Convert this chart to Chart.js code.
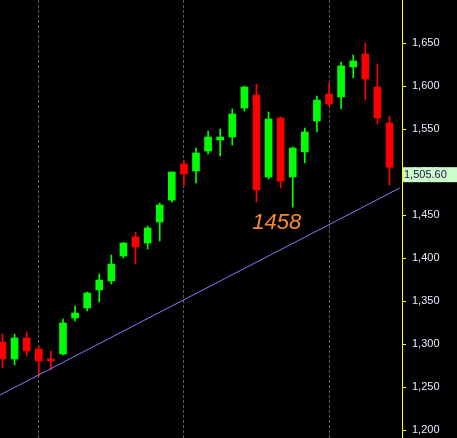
<!DOCTYPE html>
<html>
<head>
<meta charset="utf-8">
<script src="https://cdn.jsdelivr.net/npm/chart.js@4/dist/chart.umd.min.js"></script>
<style>
  html, body { margin: 0; padding: 0; background: #000; }
  canvas { display: block; }
</style>
</head>
<body>
<canvas id="grafico" width="457" height="438"></canvas>
<script>
// OHLC de cada candle (da esquerda para a direita)
const aberturas = [1302.3, 1282.6, 1307.0, 1294.2, 1282.6, 1288.4, 1330.2, 1341.9, 1362.8, 1373.3, 1402.3,
    1424.4, 1417.4, 1441.9, 1467.4, 1509.3, 1501.2, 1524.4, 1537.2, 1540.7, 1574.4, 1589.5,
    1494.2, 1562.8, 1494.2, 1523.3, 1559.3, 1590.7, 1587.2, 1622.1, 1637.2, 1598.8, 1557.0];
const maximas = [1311.6, 1311.6, 1314.0, 1297.7, 1291.9, 1329.0, 1344.2, 1360.5, 1381.4, 1403.5, 1418.0,
    1430.2, 1437.2, 1464.0, 1500.0, 1514.0, 1527.9, 1547.7, 1550.0, 1573.3, 1600.0, 1602.3,
    1569.8, 1564.0, 1529.1, 1551.2, 1588.4, 1603.5, 1627.9, 1636.0, 1650.0, 1625.6, 1565.1];
const minimas = [1272.1, 1275.6, 1286.0, 1262.8, 1269.8, 1287.2, 1326.7, 1338.4, 1348.8, 1369.8, 1400.0,
    1393.0, 1410.5, 1419.8, 1465.1, 1483.7, 1487.2, 1520.9, 1518.6, 1531.4, 1570.9, 1465.1,
    1491.9, 1481.4, 1459.3, 1510.5, 1546.5, 1576.7, 1573.3, 1609.3, 1583.7, 1555.8, 1484.9];
const fechamentos = [1282.6, 1307.0, 1291.9, 1280.2, 1280.2, 1324.4, 1336.0, 1359.3, 1374.4, 1393.0, 1417.4,
    1412.8, 1434.9, 1461.6, 1500.0, 1497.7, 1522.1, 1540.7, 1540.7, 1567.4, 1598.8, 1479.1,
    1561.6, 1489.5, 1527.9, 1546.5, 1583.7, 1579.1, 1623.3, 1629.1, 1608.1, 1562.8, 1505.6];

// linha de tendencia (indice do candle, preco)
const tendenciaX = [-0.21, 32.85];
const tendenciaY = [1240.7, 1481.4];

// marcas do eixo de precos e linhas verticais
const ticksPreco = [1200, 1250, 1300, 1350, 1400, 1450, 1500, 1550, 1600, 1650];
const divisoes = [3, 15, 27];

// texto da minima marcada
const anotacaoTexto = '1458';
const anotacaoX = 22.67;
const anotacaoY = 1440.7;

const VERDE = '#00ff00';
const VERMELHO = '#ff0000';

const cores = aberturas.map((a, i) => fechamentos[i] >= a ? VERDE : VERMELHO);
const corpos = aberturas.map((a, i) => ({ x: i, y: [a, fechamentos[i]] }));
const pavios = minimas.map((m, i) => ({ x: i, y: [m, maximas[i]] }));
const tendencia = tendenciaX.map((x, i) => ({ x: x, y: tendenciaY[i] }));

const fundoPreto = {
    id: 'fundoPreto',
    beforeDraw(chart) {
        const c = chart.ctx;
        c.save();
        c.fillStyle = '#000';
        c.fillRect(0, 0, chart.width, chart.height);
        c.restore();
    }
};

const rotulos = {
    id: 'rotulos',
    afterDraw(chart) {
        const c = chart.ctx;
        const x = chart.scales.x;
        const y = chart.scales.y;
        c.save();
        // anotacao 1458
        c.font = 'italic 22px "Liberation Sans", Arial, sans-serif';
        c.fillStyle = '#f7892c';
        c.textAlign = 'center';
        c.textBaseline = 'middle';
        c.fillText(anotacaoTexto, x.getPixelForValue(anotacaoX), y.getPixelForValue(anotacaoY));

        // ultimo preco
        const ultimo = fechamentos[fechamentos.length - 1];
        const py = y.getPixelForValue(ultimo);
        const esq = chart.chartArea.right + 1;
        c.fillStyle = '#ccfccc';
        c.fillRect(esq, py, chart.width - esq, 15);
        c.font = '11px "Liberation Sans", Arial, sans-serif';
        c.fillStyle = '#1c1440';
        c.textAlign = 'left';
        c.fillText(ultimo.toLocaleString('en-US', { minimumFractionDigits: 2 }), esq + 1, py + 7.5);
        c.restore();
    }
};

const ctx = document.getElementById('grafico').getContext('2d');
const grafico = new Chart(ctx, {
    type: 'bar',
    data: {
        datasets: [
            {
                label: 'tendencia',
                type: 'line',
                data: tendencia,
                borderColor: '#7c7cff',
                borderWidth: 1,
                pointRadius: 0,
                fill: false,
                clip: false
            },
            {
                label: 'pavios',
                data: pavios,
                backgroundColor: cores,
                barThickness: 1,
                grouped: false
            },
            {
                label: 'corpos',
                data: corpos,
                backgroundColor: cores,
                barThickness: 7,
                grouped: false,
                minBarLength: 1
            }
        ]
    },
    options: {
        responsive: false,
        animation: false,
        layout: { padding: 0 },
        plugins: {
            legend: { display: false },
            tooltip: { enabled: false }
        },
        scales: {
            x: {
                type: 'linear',
                offset: false,
                min: -0.207,
                max: 33.034,
                afterBuildTicks: (s) => { s.ticks = divisoes.map(v => ({ value: v })); },
                afterFit: (s) => { s.height = 0; },
                ticks: { display: false },
                grid: { color: '#5c5c5c', drawTicks: false, offset: false },
                border: { display: false, dash: [3, 2] }
            },
            y: {
                position: 'right',
                min: 1190.7,
                max: 1700,
                afterBuildTicks: (s) => { s.ticks = ticksPreco.map(v => ({ value: v })); },
                afterFit: (s) => {
                    s.width = 55;
                    s.paddingTop = 0;
                    s.paddingBottom = 0;
                },
                ticks: {
                    color: '#e4eaff',
                    padding: 6,
                    font: { family: '"Liberation Sans", Arial, sans-serif', size: 11 },
                    callback: (v) => v.toLocaleString('en-US')
                },
                grid: {
                    drawOnChartArea: false,
                    tickColor: '#ffff00',
                    tickLength: 4
                },
                border: { color: '#ffff00', width: 1 }
            }
        }
    },
    plugins: [fundoPreto, rotulos]
});
</script>
</body>
</html>
